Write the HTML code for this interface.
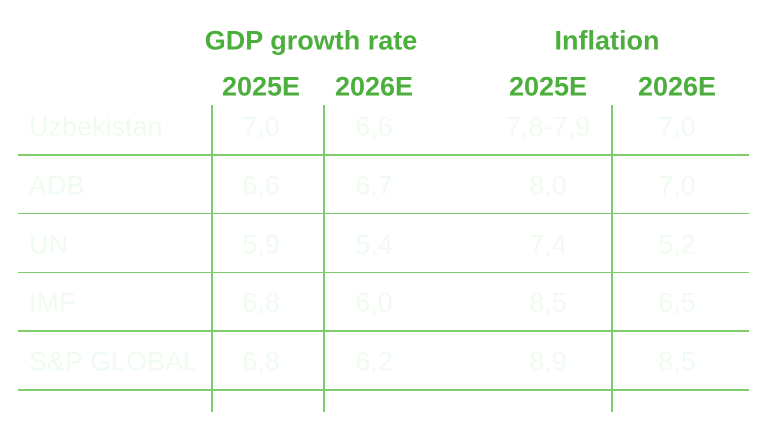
<!DOCTYPE html>
<html><head><meta charset="utf-8"><style>
body{margin:0;width:768px;height:444px;background:#fff;position:relative;overflow:hidden;font-family:"Liberation Sans",sans-serif}
.h{position:absolute;color:#4cae3c;font-weight:bold;transform:translate(-50%,-50%);white-space:nowrap}
.t{position:absolute;color:#f0fbf0;font-size:27px;transform:translate(-50%,-50%);white-space:nowrap}
.hl{position:absolute;left:18px;width:731px;height:1.5px;background:#7dcc6e}
.vl{position:absolute;top:105px;height:307px;width:1.5px;background:#7dcc6e}
</style></head><body>
<div class="h" style="left:311px;top:41px;font-size:27px">GDP growth rate</div>
<div class="h" style="left:607px;top:41px;font-size:27px">Inflation</div>
<div class="h" style="left:261px;top:87px;font-size:27px">2025E</div>
<div class="h" style="left:374px;top:87px;font-size:27px">2026E</div>
<div class="h" style="left:548px;top:87px;font-size:27px">2025E</div>
<div class="h" style="left:677px;top:87px;font-size:27px">2026E</div>
<div class="vl" style="left:211px"></div>
<div class="vl" style="left:323px"></div>
<div class="vl" style="left:611px"></div>
<div id="rows"></div>
<script>
const sources=["Uzbekistan","ADB","UN","IMF","S&P GLOBAL"];
const gdp2025=["7,0","6,6","5,9","6,8","6,8"];
const gdp2026=["6,6","6,7","5,4","6,0","6,2"];
const inf2025=["7,8-7,9","8,0","7,4","8,5","8,9"];
const inf2026=["7,0","7,0","5,2","6,5","8,5"];
const rowsEl=document.getElementById('rows');
const colX=[261,374,548,677];
sources.forEach((s,i)=>{
  const y=127+i*58.8;
  const lab=document.createElement('div');
  lab.className='t';
  
  
  lab.style.left='29px';lab.style.top=y+'px';lab.style.transform='translate(0,-50%)';
  lab.textContent=s;rowsEl.appendChild(lab);
  [gdp2025[i],gdp2026[i],inf2025[i],inf2026[i]].forEach((v,j)=>{
    const c=document.createElement('div');
    c.className='t';
    
    
    c.style.left=colX[j]+'px';c.style.top=y+'px';
    c.textContent=v;rowsEl.appendChild(c);
  });
  const l=document.createElement('div');
  l.className='hl';
  
  
  l.style.top=(154+i*58.8)+'px';
  rowsEl.appendChild(l);
});
</script>
</body></html>
